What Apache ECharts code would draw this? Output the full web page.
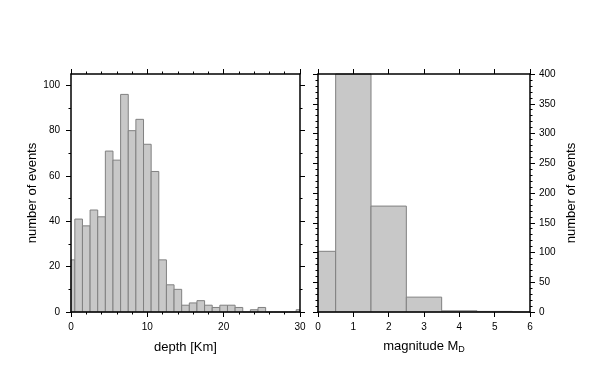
<!DOCTYPE html>
<html>
<head>
<meta charset="utf-8">
<script src="https://cdn.jsdelivr.net/npm/echarts@6/dist/echarts.min.js"></script>
<style>
html,body{margin:0;padding:0;background:#fff;}
#chart{width:602px;height:383px;}
</style>
</head>
<body>
<div id="chart"></div>
<script>
// ---- data ----
const depthBinWidth = 1;
const depthBinCenters = [0,1,2,3,4,5,6,7,8,9,10,11,12,13,14,15,16,17,18,19,20,21,22,23,24,25,26,27,28,29,30];
const depthCounts     = [23,41,38,45,42,71,67,96,80,85,74,62,23,12,10,3,4,5,3,2,3,3,2,0,1,2,0,0,0,0,1];

const magBinWidth = 1;
const magBinCenters = [0,1,2,3,4,5,6];
const magCounts     = [102,400,178,25,2,1,0];

const depthTicks = [0,10,20,30];
const depthCountMajor = [0,20,40,60,80,100];
const depthCountMinor = [10,30,50,70,90];
const magTicks = [0,1,2,3,4,5,6];
const magCountTicks = [0,50,100,150,200,250,300,350,400];

// ---- styles ----
const FONT = 'Liberation Sans, Arial, Helvetica, sans-serif';
const frameLine = {show:true, onZero:false, lineStyle:{color:'#000', width:1.5}};
const noLine = {show:false, onZero:false};
const labelStyle = {fontFamily:FONT, fontSize:10, color:'#000'};
const nameStyle = {fontFamily:FONT, fontSize:13, color:'#000'};
const tickColor = {color:'#000'};

function makeRender(binWidth){
  return function(params, api){
    const x = api.value(0), y = api.value(1);
    const p0 = api.coord([x - binWidth/2, y]);
    const p1 = api.coord([x + binWidth/2, 0]);
    const cs = params.coordSys;
    const rect = echarts.graphic.clipRectByRect(
      {x:p0[0], y:p0[1], width:p1[0]-p0[0], height:p1[1]-p0[1]},
      {x:cs.x, y:cs.y, width:cs.width, height:cs.height});
    if(!rect) return null;
    return {type:'rect', shape:rect, style:{fill:'#c8c8c8', stroke:'#808080', lineWidth:1}};
  };
}

const chart = echarts.init(document.getElementById('chart'), null, {renderer:'canvas'});
const option = {
  animation:false,
  backgroundColor:'#fff',
  grid:[
    {left:71, top:74, width:229, height:238},
    {left:318, top:74, width:212, height:238}
  ],
  xAxis:[
    {gridIndex:0, type:'value', position:'bottom', min:0, max:30, interval:10, z:5,
     axisLine:frameLine, splitLine:{show:false},
     axisTick:{show:true, inside:false, length:5, lineStyle:tickColor},
     minorTick:{show:true, splitNumber:5, length:2.5, lineStyle:tickColor},
     axisLabel:{...labelStyle, margin:10, customValues:depthTicks},
     name:'depth [Km]', nameLocation:'middle', nameGap:29, nameTextStyle:nameStyle},
    {gridIndex:0, type:'value', position:'top', min:0, max:30, interval:10, z:5,
     axisLine:frameLine, splitLine:{show:false},
     axisTick:{show:true, inside:false, length:5, lineStyle:tickColor},
     minorTick:{show:true, splitNumber:5, length:2.5, lineStyle:tickColor},
     axisLabel:{show:false}},
    {gridIndex:1, type:'value', position:'bottom', min:0, max:6, interval:1, z:5,
     axisLine:frameLine, splitLine:{show:false},
     axisTick:{show:true, inside:false, length:5, lineStyle:tickColor},
     axisLabel:{...labelStyle, margin:10, customValues:magTicks},
     name:'magnitude M{sub|D}', nameLocation:'middle', nameGap:26,
     nameTextStyle:{...nameStyle, rich:{sub:{fontFamily:FONT, fontSize:9, color:'#000', padding:[7,0,0,0]}}}},
    {gridIndex:1, type:'value', position:'top', min:0, max:6, interval:1, z:5,
     axisLine:frameLine, splitLine:{show:false},
     axisTick:{show:true, inside:false, length:5, lineStyle:tickColor},
     axisLabel:{show:false}}
  ],
  yAxis:[
    {gridIndex:0, type:'value', position:'left', min:0, max:105, z:5,
     axisLine:frameLine, splitLine:{show:false},
     axisTick:{show:true, length:5, customValues:depthCountMajor, lineStyle:tickColor},
     axisLabel:{...labelStyle, margin:11, customValues:depthCountMajor},
     name:'number of events', nameLocation:'middle', nameRotate:90, nameGap:31, nameTextStyle:nameStyle},
    {gridIndex:0, type:'value', position:'left', min:0, max:105, z:5,
     axisLine:noLine, splitLine:{show:false},
     axisTick:{show:true, length:2.5, customValues:depthCountMinor, lineStyle:tickColor},
     axisLabel:{show:false}},
    {gridIndex:0, type:'value', position:'right', min:0, max:105, z:5,
     axisLine:frameLine, splitLine:{show:false},
     axisTick:{show:true, length:5, customValues:depthCountMajor, lineStyle:tickColor},
     axisLabel:{show:false}},
    {gridIndex:0, type:'value', position:'right', min:0, max:105, z:5,
     axisLine:noLine, splitLine:{show:false},
     axisTick:{show:true, length:2.5, customValues:depthCountMinor, lineStyle:tickColor},
     axisLabel:{show:false}},
    {gridIndex:1, type:'value', position:'left', min:0, max:400, interval:50, z:5,
     axisLine:frameLine, splitLine:{show:false},
     axisTick:{show:true, length:5, lineStyle:tickColor},
     minorTick:{show:true, splitNumber:5, length:2.5, lineStyle:tickColor},
     axisLabel:{show:false}},
    {gridIndex:1, type:'value', position:'right', min:0, max:400, interval:50, z:5,
     axisLine:frameLine, splitLine:{show:false},
     axisTick:{show:true, length:5, lineStyle:tickColor},
     minorTick:{show:true, splitNumber:5, length:2.5, lineStyle:tickColor},
     axisLabel:{...labelStyle, margin:9, customValues:magCountTicks},
     name:'number of events', nameLocation:'middle', nameRotate:90, nameGap:35, nameTextStyle:nameStyle}
  ],
  series:[
    {type:'custom', xAxisIndex:0, yAxisIndex:0, renderItem:makeRender(depthBinWidth),
     encode:{x:0, y:1}, data:depthBinCenters.map((c,i)=>[c, depthCounts[i]])},
    {type:'custom', xAxisIndex:2, yAxisIndex:5, renderItem:makeRender(magBinWidth),
     encode:{x:0, y:1}, data:magBinCenters.map((c,i)=>[c, magCounts[i]])}
  ]
};
chart.setOption(option);
</script>
</body>
</html>
